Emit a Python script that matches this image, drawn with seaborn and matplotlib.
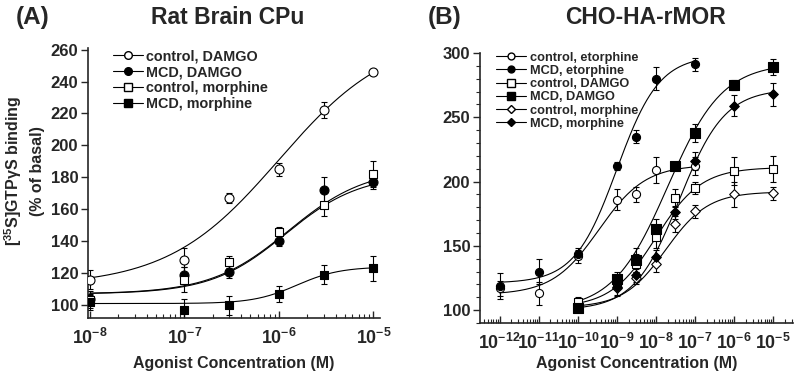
import numpy as np
import matplotlib
matplotlib.use('Agg')
import matplotlib.pyplot as plt
from matplotlib.lines import Line2D
from matplotlib.ticker import LogLocator, MultipleLocator, NullFormatter
import seaborn as sns

# ---- Panel A: Rat Brain CPu ----
conc_a = [1e-8, 1e-7, 3e-7, 1e-6, 3e-6, 1e-5]
labels_a = ['control, DAMGO', 'MCD, DAMGO', 'control, morphine', 'MCD, morphine']
vals_a = {
    'control, DAMGO':    [116, 128, 167, 185, 222, 246],
    'MCD, DAMGO':        [104, 119, 121, 140, 172, 177],
    'control, morphine': [103, 116, 127, 146, 163, 182],
    'MCD, morphine':     [102, 97, 100, 107, 119, 123],
}
errs_a = {
    'control, DAMGO':    [6, 8, 3, 4, 5, 2],
    'MCD, DAMGO':        [3, 5, 4, 3, 8, 4],
    'control, morphine': [6, 8, 4, 3, 7, 8],
    'MCD, morphine':     [4, 7, 6, 5, 6, 8],
}
# fitted curves: bottom, top, logEC50, hill slope
fit_a = {
    'control, DAMGO':    (112, 270, -6.0, 0.74),
    'MCD, DAMGO':        (107, 182, -5.93, 1.1),
    'control, morphine': (107, 186, -5.9, 1.05),
    'MCD, morphine':     (101, 124, -5.81, 1.9),
}
range_a = {l: (1e-8, 1e-5) for l in labels_a}

# ---- Panel B: CHO-HA-rMOR ----
conc_etor = [1e-12, 1e-11, 1e-10, 1e-9, 3e-9, 1e-8, 1e-7]
conc_damgo = [1e-10, 1e-9, 3e-9, 1e-8, 3e-8, 1e-7, 1e-6, 1e-5]
conc_morph = [1e-9, 3e-9, 1e-8, 3e-8, 1e-7, 1e-6, 1e-5]
labels_b = ['control, etorphine', 'MCD, etorphine', 'control, DAMGO',
            'MCD, DAMGO', 'control, morphine', 'MCD, morphine']
conc_b = {
    'control, etorphine': conc_etor, 'MCD, etorphine': conc_etor,
    'control, DAMGO': conc_damgo, 'MCD, DAMGO': conc_damgo,
    'control, morphine': conc_morph, 'MCD, morphine': conc_morph,
}
vals_b = {
    'control, etorphine': [117, 113, 142, 186, 190, 209, 212],
    'MCD, etorphine':     [119, 130, 144, 212, 235, 280, 291],
    'control, DAMGO':     [106, 122, 136, 157, 187, 195, 208, 210],
    'MCD, DAMGO':         [102, 124, 139, 163, 212, 238, 275, 289],
    'control, morphine':  [117, 125, 136, 167, 177, 190, 191],
    'MCD, morphine':      [118, 127, 141, 176, 216, 259, 268],
}
errs_b = {
    'control, etorphine': [6, 9, 5, 8, 6, 10, 7],
    'MCD, etorphine':     [10, 10, 4, 3, 5, 9, 5],
    'control, DAMGO':     [4, 5, 8, 9, 7, 5, 11, 10],
    'MCD, DAMGO':         [3, 6, 9, 8, 3, 7, 4, 6],
    'control, morphine':  [6, 5, 6, 6, 5, 10, 5],
    'MCD, morphine':      [6, 5, 6, 5, 7, 8, 9],
}
fit_b = {
    'control, etorphine': (112, 213, -9.46, 0.73),
    'MCD, etorphine':     (121, 298, -9.0, 0.8),
    'control, DAMGO':     (102, 211, -8.0, 0.75),
    'MCD, DAMGO':         (100, 292, -7.7, 0.62),
    'control, morphine':  (102, 192, -7.75, 0.8),
    'MCD, morphine':      (100, 272, -7.4, 0.75),
}
range_b = {
    'control, etorphine': (1e-12, 1e-7), 'MCD, etorphine': (1e-12, 1e-7),
    'control, DAMGO': (1e-10, 1e-5), 'MCD, DAMGO': (1e-10, 1e-5),
    'control, morphine': (1e-10, 1e-5), 'MCD, morphine': (1e-10, 1e-5),
}

marker_a = {'control, DAMGO': ('o', 'white', 42), 'MCD, DAMGO': ('o', 'black', 42),
            'control, morphine': ('s', 'white', 36), 'MCD, morphine': ('s', 'black', 36)}
marker_b = {'control, etorphine': ('o', 'white', 34), 'MCD, etorphine': ('o', 'black', 34),
            'control, DAMGO': ('s', 'white', 40), 'MCD, DAMGO': ('s', 'black', 52),
            'control, morphine': ('D', 'white', 24), 'MCD, morphine': ('D', 'black', 24)}

sns.set_style('ticks')
plt.rcParams['font.family'] = ['Liberation Sans', 'DejaVu Sans']
plt.rcParams['font.weight'] = 'bold'
plt.rcParams['axes.labelweight'] = 'bold'
plt.rcParams['mathtext.fontset'] = 'custom'
plt.rcParams['mathtext.rm'] = 'Liberation Sans:bold'
plt.rcParams['mathtext.it'] = 'Liberation Sans:bold:italic'
plt.rcParams['mathtext.bf'] = 'Liberation Sans:bold'
plt.rcParams['axes.linewidth'] = 1.2


def hill(x, bottom, top, logec50, h):
    return bottom + (top - bottom) / (1 + 10 ** (h * (logec50 - np.log10(x))))


def draw_panel(ax, labels, concs, vals, errs, fits, ranges, markers):
    for lab in labels:
        x = np.array(concs[lab])
        lo, hi = ranges[lab]
        xs = np.logspace(np.log10(lo), np.log10(hi), 200)
        sns.lineplot(x=xs, y=hill(xs, *fits[lab]), color='black', lw=0.8, ax=ax,
                     zorder=2, estimator=None, sort=False)
        ax.errorbar(x, vals[lab], yerr=errs[lab], fmt='none', ecolor='black',
                    elinewidth=0.8, capsize=2, capthick=0.8, zorder=2)
        m, fc, s = markers[lab]
        sns.scatterplot(x=x, y=vals[lab], marker=m, s=s, color=fc, edgecolor='black',
                        linewidth=0.8, ax=ax, zorder=3)
    handles = [Line2D([], [], color='black', lw=0.8, marker=markers[l][0],
                      markerfacecolor=markers[l][1], markeredgecolor='black',
                      markersize=np.sqrt(markers[l][2]) * 0.85) for l in labels]
    return handles


fig = plt.figure(figsize=(8, 3.78), dpi=100)
ax_a = fig.add_axes([0.11, 0.159, 0.365, 0.714])
ax_b = fig.add_axes([0.60, 0.1455, 0.391, 0.7145])

for ax in (ax_a, ax_b):
    ax.set_xscale('log')

h_a = draw_panel(ax_a, labels_a, {l: conc_a for l in labels_a}, vals_a, errs_a,
                 fit_a, range_a, marker_a)
h_b = draw_panel(ax_b, labels_b, conc_b, vals_b, errs_b, fit_b, range_b, marker_b)

ax_a.set_xlim(10 ** -8.02, 10 ** -4.93)
ax_a.set_ylim(92, 261)
ax_a.yaxis.set_major_locator(MultipleLocator(20))
ax_b.set_xlim(10 ** -12.5, 10 ** -4.5)
ax_b.set_ylim(90, 300)
ax_b.yaxis.set_major_locator(MultipleLocator(50))
ax_b.yaxis.set_minor_locator(MultipleLocator(10))

for ax in (ax_a, ax_b):
    ax.xaxis.set_major_locator(LogLocator(base=10, numticks=20))
    ax.xaxis.set_minor_locator(LogLocator(base=10, subs=np.arange(2, 10), numticks=20))
    ax.xaxis.set_minor_formatter(NullFormatter())
    ax.tick_params(axis='x', which='major', direction='in', length=5, width=1, pad=7, labelsize=12.8)
    ax.tick_params(axis='x', which='minor', direction='in', length=3, width=0.8)
    ax.tick_params(axis='y', which='major', direction='out', length=5, width=1, pad=2, labelsize=12)
    ax.tick_params(axis='y', which='minor', direction='out', length=3, width=0.8)
    ax.set_xlabel('Agonist Concentration (M)', fontsize=11.5)
    sns.despine(ax=ax)

ax_a.xaxis.set_label_coords(0.5, -0.14)
ax_b.xaxis.set_label_coords(0.5, -0.122)
ax_a.set_ylabel('[$^{35}$S]GTPγS binding\n(% of basal)', fontsize=11.5, linespacing=1.5)
ax_a.yaxis.set_label_coords(-0.147, 0.544)

ax_a.legend(h_a, labels_a, loc='upper left', bbox_to_anchor=(0.086, 0.995), frameon=False,
            fontsize=10.4, handlelength=2.1, handletextpad=0.2, labelspacing=0.14,
            borderpad=0, borderaxespad=0)
ax_b.legend(h_b, labels_b, loc='upper left', bbox_to_anchor=(0.05, 1.005), frameon=False,
            fontsize=9.2, handlelength=2.4, handletextpad=0.25, labelspacing=0.1,
            borderpad=0, borderaxespad=0)

fig.text(0.02, 0.954, '(A)', fontsize=17.5, fontweight='bold', va='center', ha='left')
fig.text(0.284, 0.954, 'Rat Brain CPu', fontsize=16.5, fontweight='bold', va='center', ha='center')
fig.text(0.535, 0.954, '(B)', fontsize=17.5, fontweight='bold', va='center', ha='left')
fig.text(0.8075, 0.954, 'CHO-HA-rMOR', fontsize=16.5, fontweight='bold', va='center', ha='center')

fig.savefig('out.png', dpi=100)
